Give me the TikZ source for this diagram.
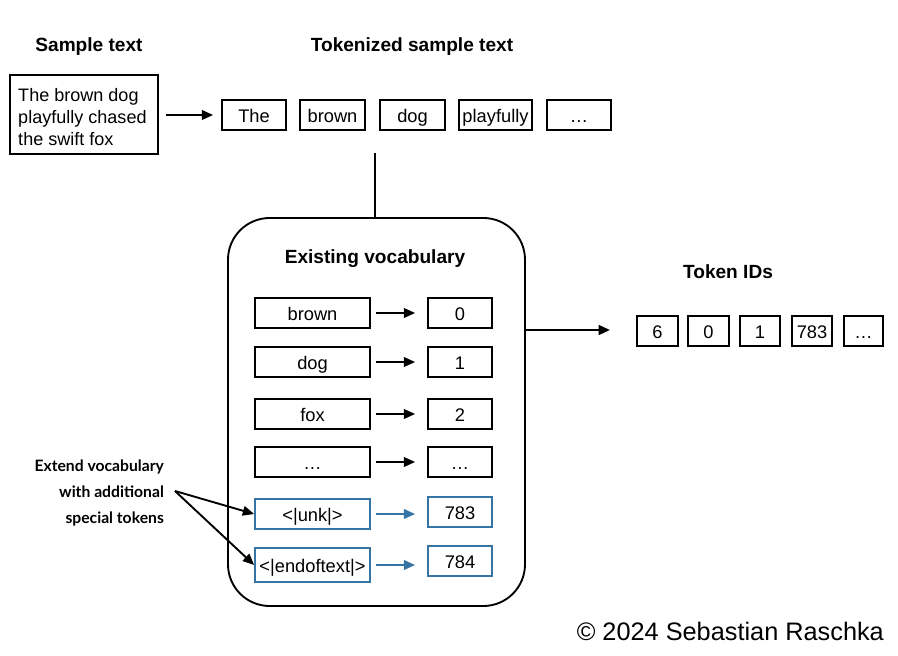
\documentclass[tikz,border=0pt]{standalone}
\usepackage{fontspec}
\setmainfont{Liberation Sans}
\newfontfamily\gillfont{Lato}
\usetikzlibrary{arrows.meta}
\definecolor{vblue}{HTML}{3574A3}
\tikzset{
  wh/.style 2 args={minimum width=#1*0.03cm, minimum height=#2*0.03cm},
  tokbox/.style={draw=black, line width=1.5pt, inner sep=0pt, text height=15pt, text depth=2pt, font=\fontsize{15.6}{18}\selectfont},
  bluebox/.style={tokbox, draw=vblue},
  title/.style={font=\bfseries\fontsize{16.3}{19}\selectfont},
  arr/.style={line width=1.6pt, -{Triangle[length=3.4mm,width=2.9mm]}},
  barr/.style={arr, draw=vblue, -{Triangle[length=3.4mm,width=2.9mm,fill=vblue]}},
}
\begin{document}
\begin{tikzpicture}[x=0.03cm,y=-0.03cm]
\useasboundingbox (0,0) rectangle (898,656);
% titles
\node[title] (t1) at (89,47) {Sample text};
\node[title] (t2) at (412,47) {Tokenized sample text};
\node[title] (t3) at (728,272) {Token IDs};
% sample text
\node[draw, line width=1.5pt, wh={148}{79}, inner sep=0pt] (sample) at (84,114.5) {};
\node[anchor=west, inner sep=0pt, align=left, font=\fontsize{15.4}{18.8}\selectfont] (sampletext) at (18,117.5)
  {The brown dog\\playfully chased\\the swift fox};
% tokens
\node[tokbox, wh={64}{30}] (k1) at (254,115) {The};
\node[tokbox, wh={65}{30}] (k2) at (332.5,115) {brown};
\node[tokbox, wh={65}{30}] (k3) at (412.5,115) {dog};
\node[tokbox, wh={73}{30}] (k4) at (495.5,115) {playfully};
\node[tokbox, wh={64}{30}] (k5) at (579,115) {…};
\coordinate (a1s) at (166,115);
\draw[arr] (a1s) -- ([xshift=-8*0.03cm]k1.west);
% vocabulary container
\node[draw, line width=1.6pt, rounded corners=1.25cm, wh={297}{388}] (vocab) at (376.5,412) {};
\coordinate (stem) at (375,153);
\draw[line width=2pt] (stem) -- (vocab.north -| stem);
\node[title] (vt) at (375,259) {Existing vocabulary};
% left column
\node[tokbox, wh={115}{30}] (w1) at (312.5,313) {brown};
\node[tokbox, wh={115}{30}] (w2) at (312.5,362) {dog};
\node[tokbox, wh={115}{30}] (w3) at (312.5,414) {fox};
\node[tokbox, wh={115}{30}] (w4) at (312.5,462) {…};
\node[bluebox, wh={115}{30}] (w5) at (312.5,514) {<|unk|>};
\node[bluebox, wh={115}{34}] (w6) at (312.5,565) {<|endoftext|>};
% right column
\node[tokbox, wh={64}{30}] (n1) at (460,313) {0};
\node[tokbox, wh={64}{30}] (n2) at (460,362) {1};
\node[tokbox, wh={64}{30}] (n3) at (460,414) {2};
\node[tokbox, wh={64}{30}] (n4) at (460,462) {…};
\node[bluebox, wh={64}{30}] (n5) at (460,512) {783};
\node[bluebox, wh={64}{30}] (n6) at (460,561) {784};
\foreach \i in {1,...,4}{
  \draw[arr] ([xshift=5*0.03cm]w\i.east) -- ([xshift=-12*0.03cm]n\i.west);
}
\draw[barr] ([xshift=5*0.03cm]w5.east) -- ([xshift=-12*0.03cm]n5.west |- w5.east);
\draw[barr] ([xshift=5*0.03cm]w6.east) -- ([xshift=-12*0.03cm]n6.west |- w6.east);
% output arrow
\coordinate (outs) at (525,330);
\coordinate (oute) at (610,330);
\draw[arr, line width=2pt] (outs) -- (oute);
% IDs
\node[tokbox, wh={41}{30}] (i1) at (657.5,331) {6};
\node[tokbox, wh={41}{30}] (i2) at (708.5,331) {0};
\node[tokbox, wh={40}{30}] (i3) at (760,331) {1};
\node[tokbox, wh={40}{30}] (i4) at (812,331) {783};
\node[tokbox, wh={39}{30}] (i5) at (863.5,331) {…};
% extend label
\node[align=right, anchor=east, font=\gillfont\bfseries\fontsize{13.4}{22}\selectfont] (ext) at (168,493)
  {Extend vocabulary\\with additional\\special tokens};
\coordinate (es) at (175,491);
\draw[arr] (es) -- (w5.west);
\draw[arr] (es) -- (w6.west);
% copyright
\node[anchor=east, font=\fontsize{21.6}{25}\selectfont] (copy) at (888,631) {© 2024 Sebastian Raschka};
\end{tikzpicture}
\end{document}
